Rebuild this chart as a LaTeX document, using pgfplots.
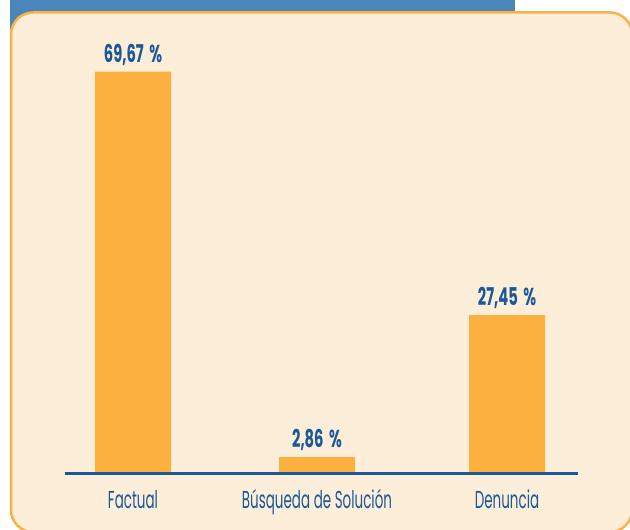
\documentclass[border=0pt]{standalone}
\usepackage{fontspec}
\setmainfont{Poppins}[FakeStretch=0.6]
\newfontfamily\catfont{Poppins}[FakeStretch=0.55]
\usepackage{pgfplots}
\pgfplotsset{compat=1.18}
\definecolor{cream}{RGB}{253,238,218}
\definecolor{barorange}{RGB}{251,176,64}
\definecolor{frameorange}{RGB}{250,178,70}
\definecolor{bandblue}{RGB}{74,134,185}
\definecolor{txtblue}{RGB}{27,88,152}
\begin{document}
\begin{tikzpicture}[x=1pt,y=1pt]
\path[use as bounding box] (0,0) rectangle (630,530);
\begin{scope}
\clip (0,0) rectangle (630,530);
\fill[bandblue] (10,480) rectangle (515,530);
\draw[line width=2.5pt, draw=frameorange, fill=cream, rounded corners=22pt] (11,-2) rectangle (632,517.5);
\end{scope}
\begin{axis}[
  at={(65pt,56.5pt)}, anchor=south west,
  scale only axis, width=513pt, height=461.4pt,
  xmin=65, xmax=578, ymin=0, ymax=80,
  axis x line=bottom, axis y line=none,
  x axis line style={-, line width=2.5pt, color=txtblue},
  axis on top,
  ybar, bar width=76pt, bar shift=0pt,
  xtick={133,317,507},
  xticklabels={Factual, Búsqueda de Solución, Denuncia},
  major tick length=0pt,
  xticklabel style={anchor=base, yshift=-34.8pt, font=\catfont\fontsize{24.5}{26}\selectfont, text=txtblue},
  ytick=\empty,
  nodes near coords={\pgfmathprintnumber[fixed, fixed zerofill, precision=2, use comma, assume math mode=true]{\pgfplotspointmeta}\hspace{5.5pt}\%},
  nodes near coords style={anchor=base, yshift=9.4pt, font=\bfseries\fontsize{24.5}{26}\selectfont, text=txtblue, inner sep=0pt},
  clip=false,
]
\addplot[fill=barorange, draw=none] coordinates {(133,69.67) (317,2.86) (507,27.45)};
\end{axis}
\end{tikzpicture}
\end{document}
